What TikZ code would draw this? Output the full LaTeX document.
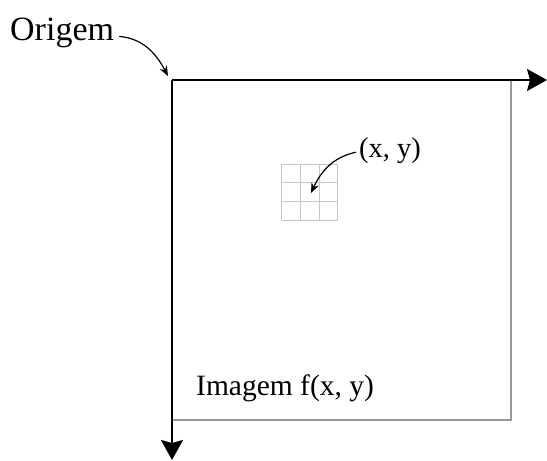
\documentclass[tikz,border=0pt]{standalone}
\usepackage{fontspec}
\setmainfont{Liberation Serif}
\usetikzlibrary{arrows.meta}
\begin{document}
\begin{tikzpicture}[x=1pt, y=-1pt, >={Stealth[length=20pt,width=22pt,inset=3pt]}]
		\useasboundingbox (0,0) rectangle (547,461);
		\coordinate (o) at (172,80);
		\coordinate (xend) at (547,80);
		\coordinate (yend) at (172,460);
		\coordinate (br) at (511,420);
		\coordinate (otip) at (168,76);
		\coordinate (ptip) at (311,193);
		\draw [gray!80, line width=1.2pt] (xend -| br) -- (br) -- (yend |- br);
		\foreach \i in {0,...,3} {
			\draw [gray!45, line width=0.8pt] (281.7+18.67*\i,164) -- (281.7+18.67*\i,220);
			\draw [gray!45, line width=0.8pt] (281.7,164+18.67*\i) -- (337.7,164+18.67*\i);
		}
		\draw [line width=2pt, ->] (o) -- (xend);
		\draw [line width=2pt, ->] (o) -- (yend);
		\node (orig) [anchor = base west, inner sep = 0pt, font = \fontsize{34}{38}\selectfont] at (10,40) {Origem};
		\node (pix) [anchor = base west, inner sep = 0pt, font = \fontsize{28.5}{32}\selectfont] at (359,157) {(x, y)};
		\node (img) [anchor = base west, inner sep = 0pt, font = \fontsize{29.5}{33}\selectfont] at (196,395) {Imagem f(x, y)};
		\draw [line width=1.2pt, ->, >={Stealth[length=10pt,width=8pt]}] ([xshift=5pt,yshift=-4pt]orig.east) to [out=-5, in=118] (otip);
		\draw [line width=1.2pt, ->, >={Stealth[length=10pt,width=8pt]}] ([xshift=-3pt,yshift=-2pt]pix.west) to [out=192, in=65] (ptip);
\end{tikzpicture}
\end{document}
